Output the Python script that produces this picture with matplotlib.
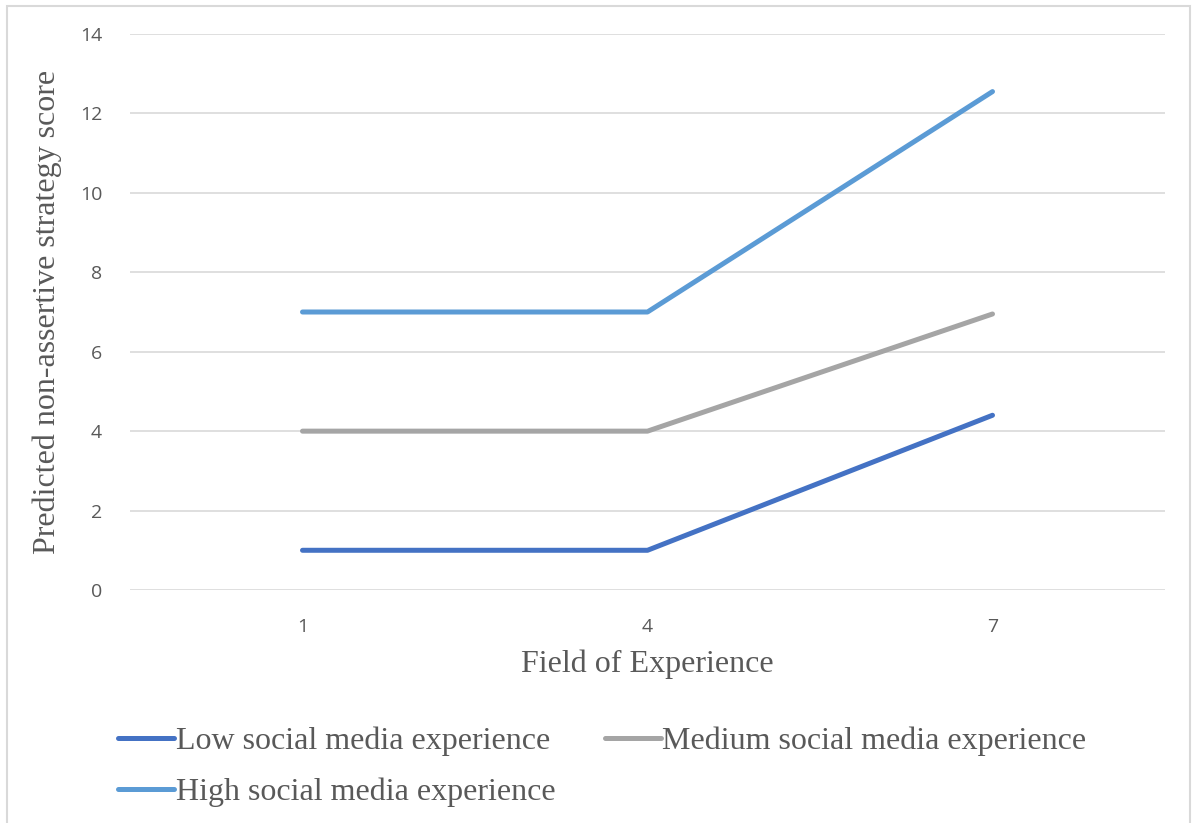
import matplotlib.pyplot as plt
import numpy as np
from matplotlib.patches import Rectangle

# Data
categories = ["1", "4", "7"]
low_values = [1.0, 1.0, 4.4]
medium_values = [4.0, 4.0, 6.95]
high_values = [7.0, 7.0, 12.55]
series_names = ["Low social media experience",
                "Medium social media experience",
                "High social media experience"]
y_ticks = [0, 2, 4, 6, 8, 10, 12, 14]

colors = ["#4472C4", "#A5A5A5", "#5B9BD5"]
text_gray = "#595959"

fig = plt.figure(figsize=(11.96, 8.23), dpi=100)
ax = fig.add_axes([130 / 1196, 1 - 590 / 823, 1035 / 1196, 556 / 823])

# outer chart border
fig.patches.append(Rectangle((7 / 1196, -0.05), 1183 / 1196, 1.05 - 6 / 823,
                             transform=fig.transFigure, fill=False,
                             edgecolor="#D9D9D9", linewidth=1.5))

x = np.arange(len(categories))
lines = []
for vals, name, c in zip([low_values, medium_values, high_values], series_names, colors):
    ln, = ax.plot(x, vals, color=c, linewidth=3.6, label=name,
                  solid_capstyle="round", solid_joinstyle="round", zorder=3)
    lines.append(ln)

ax.set_xlim(-0.5, len(categories) - 0.5)
ax.set_ylim(0, 14)
ax.set_yticks(y_ticks)
ax.set_xticks(x)
ax.set_xticklabels(categories)
ax.yaxis.grid(True, color="#D9D9D9", linewidth=1.2)
ax.set_axisbelow(True)
for s in ax.spines.values():
    s.set_visible(False)
ax.tick_params(length=0, labelsize=14, labelcolor=text_gray, pad=20)
for lab in ax.get_xticklabels() + ax.get_yticklabels():
    lab.set_family("Open Sans")

ax.set_xlabel("Field of Experience", family="Liberation Serif", fontsize=23,
              color=text_gray, labelpad=10)
ax.set_ylabel("Predicted non-assertive strategy score", family="Liberation Serif",
              fontsize=23, color=text_gray, labelpad=13)

# legend fills column-wise; order so rows read Low, Medium / High
order = [0, 2, 1]
fig.legend([lines[i] for i in order], [series_names[i] for i in order],
           loc="upper left", bbox_to_anchor=(118 / 1196, 1 - 727 / 823), ncol=2,
           frameon=False, borderpad=0, borderaxespad=0, handlelength=1.75,
           handletextpad=0.05, columnspacing=1.55, labelspacing=0.65,
           prop={"family": "Liberation Serif", "size": 23}, labelcolor=text_gray)

fig.savefig("out.png", dpi=100)
